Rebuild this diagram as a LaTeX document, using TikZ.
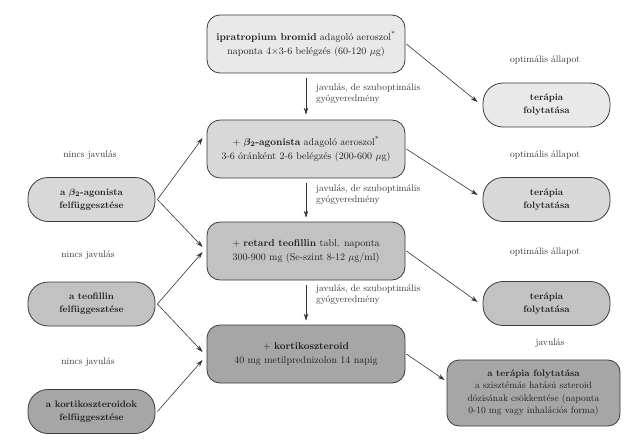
\documentclass[tikz,border=0pt]{standalone}
\usepackage{fontspec}
\usetikzlibrary{arrows.meta}
\definecolor{bordc}{HTML}{3C3C3C}
\definecolor{arrc}{HTML}{333333}
\definecolor{txtc}{HTML}{1E1E1E}
\definecolor{lblc}{HTML}{3A3038}
\definecolor{fA}{HTML}{E9E9E9}
\definecolor{fB}{HTML}{D8D8D8}
\definecolor{fC}{HTML}{C2C2C2}
\definecolor{fD}{HTML}{A6A6A6}
\begin{document}
\begin{tikzpicture}[x=1pt,y=-1pt,
  font=\fontsize{10}{14}\selectfont,
  mainbox/.style={draw=bordc, line width=0.8pt, rounded corners=13pt,
    minimum width=198pt, minimum height=58pt, align=center, inner sep=0pt, text=txtc},
  sidebox/.style={draw=bordc, line width=0.8pt, rounded corners=20pt,
    minimum width=127pt, minimum height=44pt, align=center, inner sep=0pt, text=txtc,
    font=\fontsize{9.5}{13}\selectfont\bfseries},
  lbl/.style={font=\fontsize{9.5}{11}\selectfont, text=lblc, inner sep=0pt},
  arr/.style={draw=arrc, line width=0.6pt, -{Stealth[length=7pt,width=4.5pt]}}]
\useasboundingbox (0,0) rectangle (624,444);

% main column
\node[mainbox, fill=fA] (b1) at (306,44)
  {\textbf{ipratropium bromid} adagoló aeroszol\textsuperscript{*}\\naponta 4$\times$3-6 belégzés (60-120 $\mu$g)};
\node[mainbox, fill=fB] (b2) at (306,149)
  {+ \textbf{{\boldmath$\beta_2$}-agonista} adagoló aeroszol\textsuperscript{*}\\3-6 óránként 2-6 belégzés (200-600 $\mu$g)};
\node[mainbox, fill=fC] (b3) at (306,251)
  {+ \textbf{retard teofillin} tabl. naponta\\300-900 mg (Se-szint 8-12 $\mu$g/ml)};
\node[mainbox, fill=fD] (b4) at (306,354)
  {+ \textbf{kortikoszteroid}\\40 mg metilprednizolon 14 napig};

% left column
\node[sidebox, fill=fB] (l1) at (91.5,199.5) {a {\boldmath$\beta_2$}-agonista\\felfüggesztése};
\node[sidebox, fill=fC] (l2) at (91.5,304) {a teofillin\\felfüggesztése};
\node[sidebox, fill=fD] (l3) at (91.5,411.5) {a kortikoszteroidok\\felfüggesztése};
\node[lbl] (n1) at (90,155) {nincs javulás};
\node[lbl] (n2) at (88,255) {nincs javulás};
\node[lbl] (n3) at (88,362) {nincs javulás};

% right column
\node[sidebox, fill=fA] (t1) at (546.5,105) {terápia\\folytatása};
\node[sidebox, fill=fB] (t2) at (546.5,199.5) {terápia\\folytatása};
\node[sidebox, fill=fC] (t3) at (546.5,303.5) {terápia\\folytatása};
\node[mainbox, fill=fD, minimum width=173pt, minimum height=66pt, rounded corners=12pt,
  font=\fontsize{9.5}{12.5}\selectfont] (r4) at (533.5,393)
  {\textbf{a terápia folytatása}\\a szisztémás hatású szteroid\\dózisának csökkentése (naponta\\0-10 mg vagy inhalációs forma)};
\node[lbl] (o1) at (545,60) {optimális állapot};
\node[lbl] (o2) at (545,155) {optimális állapot};
\node[lbl] (o3) at (545,252) {optimális állapot};
\node[lbl] (o4) at (550,343) {javulás};

% vertical arrows
\draw[arr] ([yshift=-5pt]b1.south) -- ([yshift=5pt]b2.north);
\draw[arr] ([yshift=-5pt]b2.south) -- ([yshift=4pt]b3.north);
\draw[arr] ([yshift=-5pt]b3.south) -- ([yshift=4pt]b4.north);
\node[lbl, anchor=west, align=left] (v1) at (316,93.5) {javulás, de szuboptimális\\gyógyeredmény};
\node[lbl, anchor=west, align=left] (v2) at (316,195) {javulás, de szuboptimális\\gyógyeredmény};
\node[lbl, anchor=west, align=left] (v3) at (316,295) {javulás, de szuboptimális\\gyógyeredmény};

% diagonal arrows to the right
\draw[arr] ([xshift=1pt]b1.east) -- ([xshift=-5pt,yshift=3pt]t1.west);
\draw[arr] ([xshift=1pt]b2.east) -- ([xshift=-5pt,yshift=4.5pt]t2.west);
\draw[arr] ([xshift=1pt]b3.east) -- ([xshift=-5pt,yshift=1.5pt]t3.west);
\draw[arr] ([xshift=1pt]b4.east) -- ([xshift=-2pt,yshift=13pt]r4.west);

% arrows from the left
\draw[arr] ([xshift=2pt]l1.east) -- ([xshift=-4pt,yshift=11pt]b2.west);
\draw[arr] ([xshift=2pt]l1.east) -- ([xshift=-4pt,yshift=4pt]b3.west);
\draw[arr] ([xshift=2pt]l2.east) -- ([xshift=-4pt,yshift=-1pt]b3.west);
\draw[arr] ([xshift=2pt]l2.east) -- ([xshift=-4pt,yshift=2pt]b4.west);
\draw[arr] ([xshift=2pt]l3.east) -- ([xshift=-4pt,yshift=-6pt]b4.west);
\end{tikzpicture}
\end{document}
